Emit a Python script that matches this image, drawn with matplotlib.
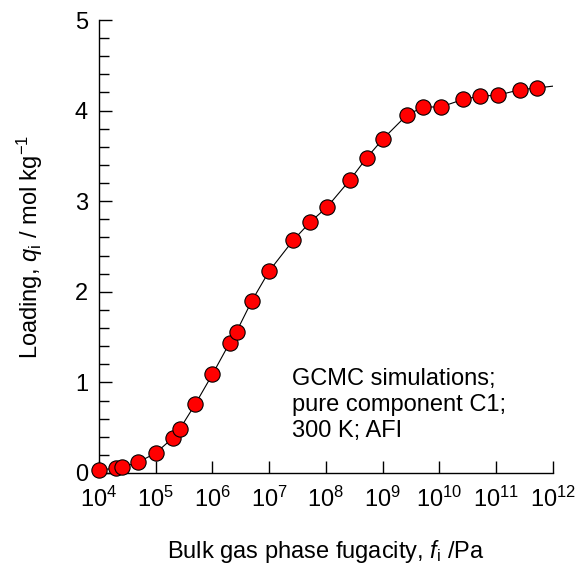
import numpy as np
import matplotlib
matplotlib.use('Agg')
import matplotlib.pyplot as plt
from matplotlib.ticker import LogLocator, MultipleLocator

plt.rcParams['font.family'] = ['Liberation Sans', 'DejaVu Sans']
plt.rcParams['mathtext.fontset'] = 'custom'
plt.rcParams['mathtext.rm'] = 'Liberation Sans'
plt.rcParams['mathtext.it'] = 'Liberation Sans:italic'
plt.rcParams['mathtext.default'] = 'regular'

# GCMC data, C1 in AFI at 300 K
fugacity = [1.0e4, 1.97e4, 2.57e4, 4.94e4, 1.0e5, 2.02e5, 2.65e5, 4.94e5,
            1.0e6, 2.02e6, 2.65e6, 4.94e6, 1.0e7, 2.65e7, 5.2e7, 1.06e8,
            2.65e8, 5.2e8, 1.02e9, 2.65e9, 5.2e9, 1.05e10, 2.65e10, 5.2e10,
            1.06e11, 2.6e11, 5.2e11]
loading = [0.03, 0.055, 0.063, 0.12, 0.22, 0.39, 0.485, 0.757,
           1.09, 1.44, 1.56, 1.90, 2.23, 2.57, 2.765, 2.94,
           3.235, 3.478, 3.69, 3.95, 4.04, 4.04, 4.125, 4.16,
           4.17, 4.23, 4.25]

# fitted curve (runs to the end of the axis)
fit_f = fugacity + [1.0e12]
fit_q = loading + [4.27]

FS = 17

fig = plt.figure(figsize=(5.8, 5.67), dpi=100)
ax = fig.add_axes([0.1707, 0.1658, 0.7827, 0.7989])

ax.plot(fit_f, fit_q, color='black', linewidth=0.8, zorder=2)
ax.plot(fugacity, loading, linestyle='none', marker='o', markersize=11,
        markerfacecolor='red', markeredgecolor='black', markeredgewidth=0.8,
        clip_on=False, zorder=3)

ax.set_xscale('log')
ax.set_xlim(1e4, 1e12)
ax.set_ylim(0, 5)
ax.xaxis.set_major_locator(LogLocator(base=10, numticks=20))
ax.xaxis.set_minor_locator(plt.NullLocator())
ax.yaxis.set_major_locator(MultipleLocator(1))
ax.yaxis.set_minor_locator(MultipleLocator(0.2))

for side in ['top', 'right']:
    ax.spines[side].set_visible(False)
for side in ['left', 'bottom']:
    ax.spines[side].set_linewidth(1.0)

ax.tick_params(which='major', direction='in', length=9, width=1.0,
               labelsize=FS)
ax.tick_params(axis='x', which='major', pad=10)
ax.tick_params(axis='y', which='major', pad=8)
ax.tick_params(which='minor', direction='in', length=7, width=1.0)

ax.set_xlabel('Bulk gas phase fugacity, $\\mathit{f}_\\mathrm{i}$ /Pa',
              fontsize=FS)
ax.set_ylabel('Loading, $\\mathit{q}_\\mathrm{i}$ / mol kg$^{\\mathrm{-}1}$',
              fontsize=FS)
ax.xaxis.set_label_coords(0.5, -0.1435)
ax.yaxis.set_label_coords(-0.12, 0.5)

ax.text(0.425, 0.232, 'GCMC simulations;\npure component C1;\n300 K; AFI',
        transform=ax.transAxes, fontsize=FS, va='top', ha='left',
        linespacing=1.25)

fig.savefig('out.png', dpi=100)
